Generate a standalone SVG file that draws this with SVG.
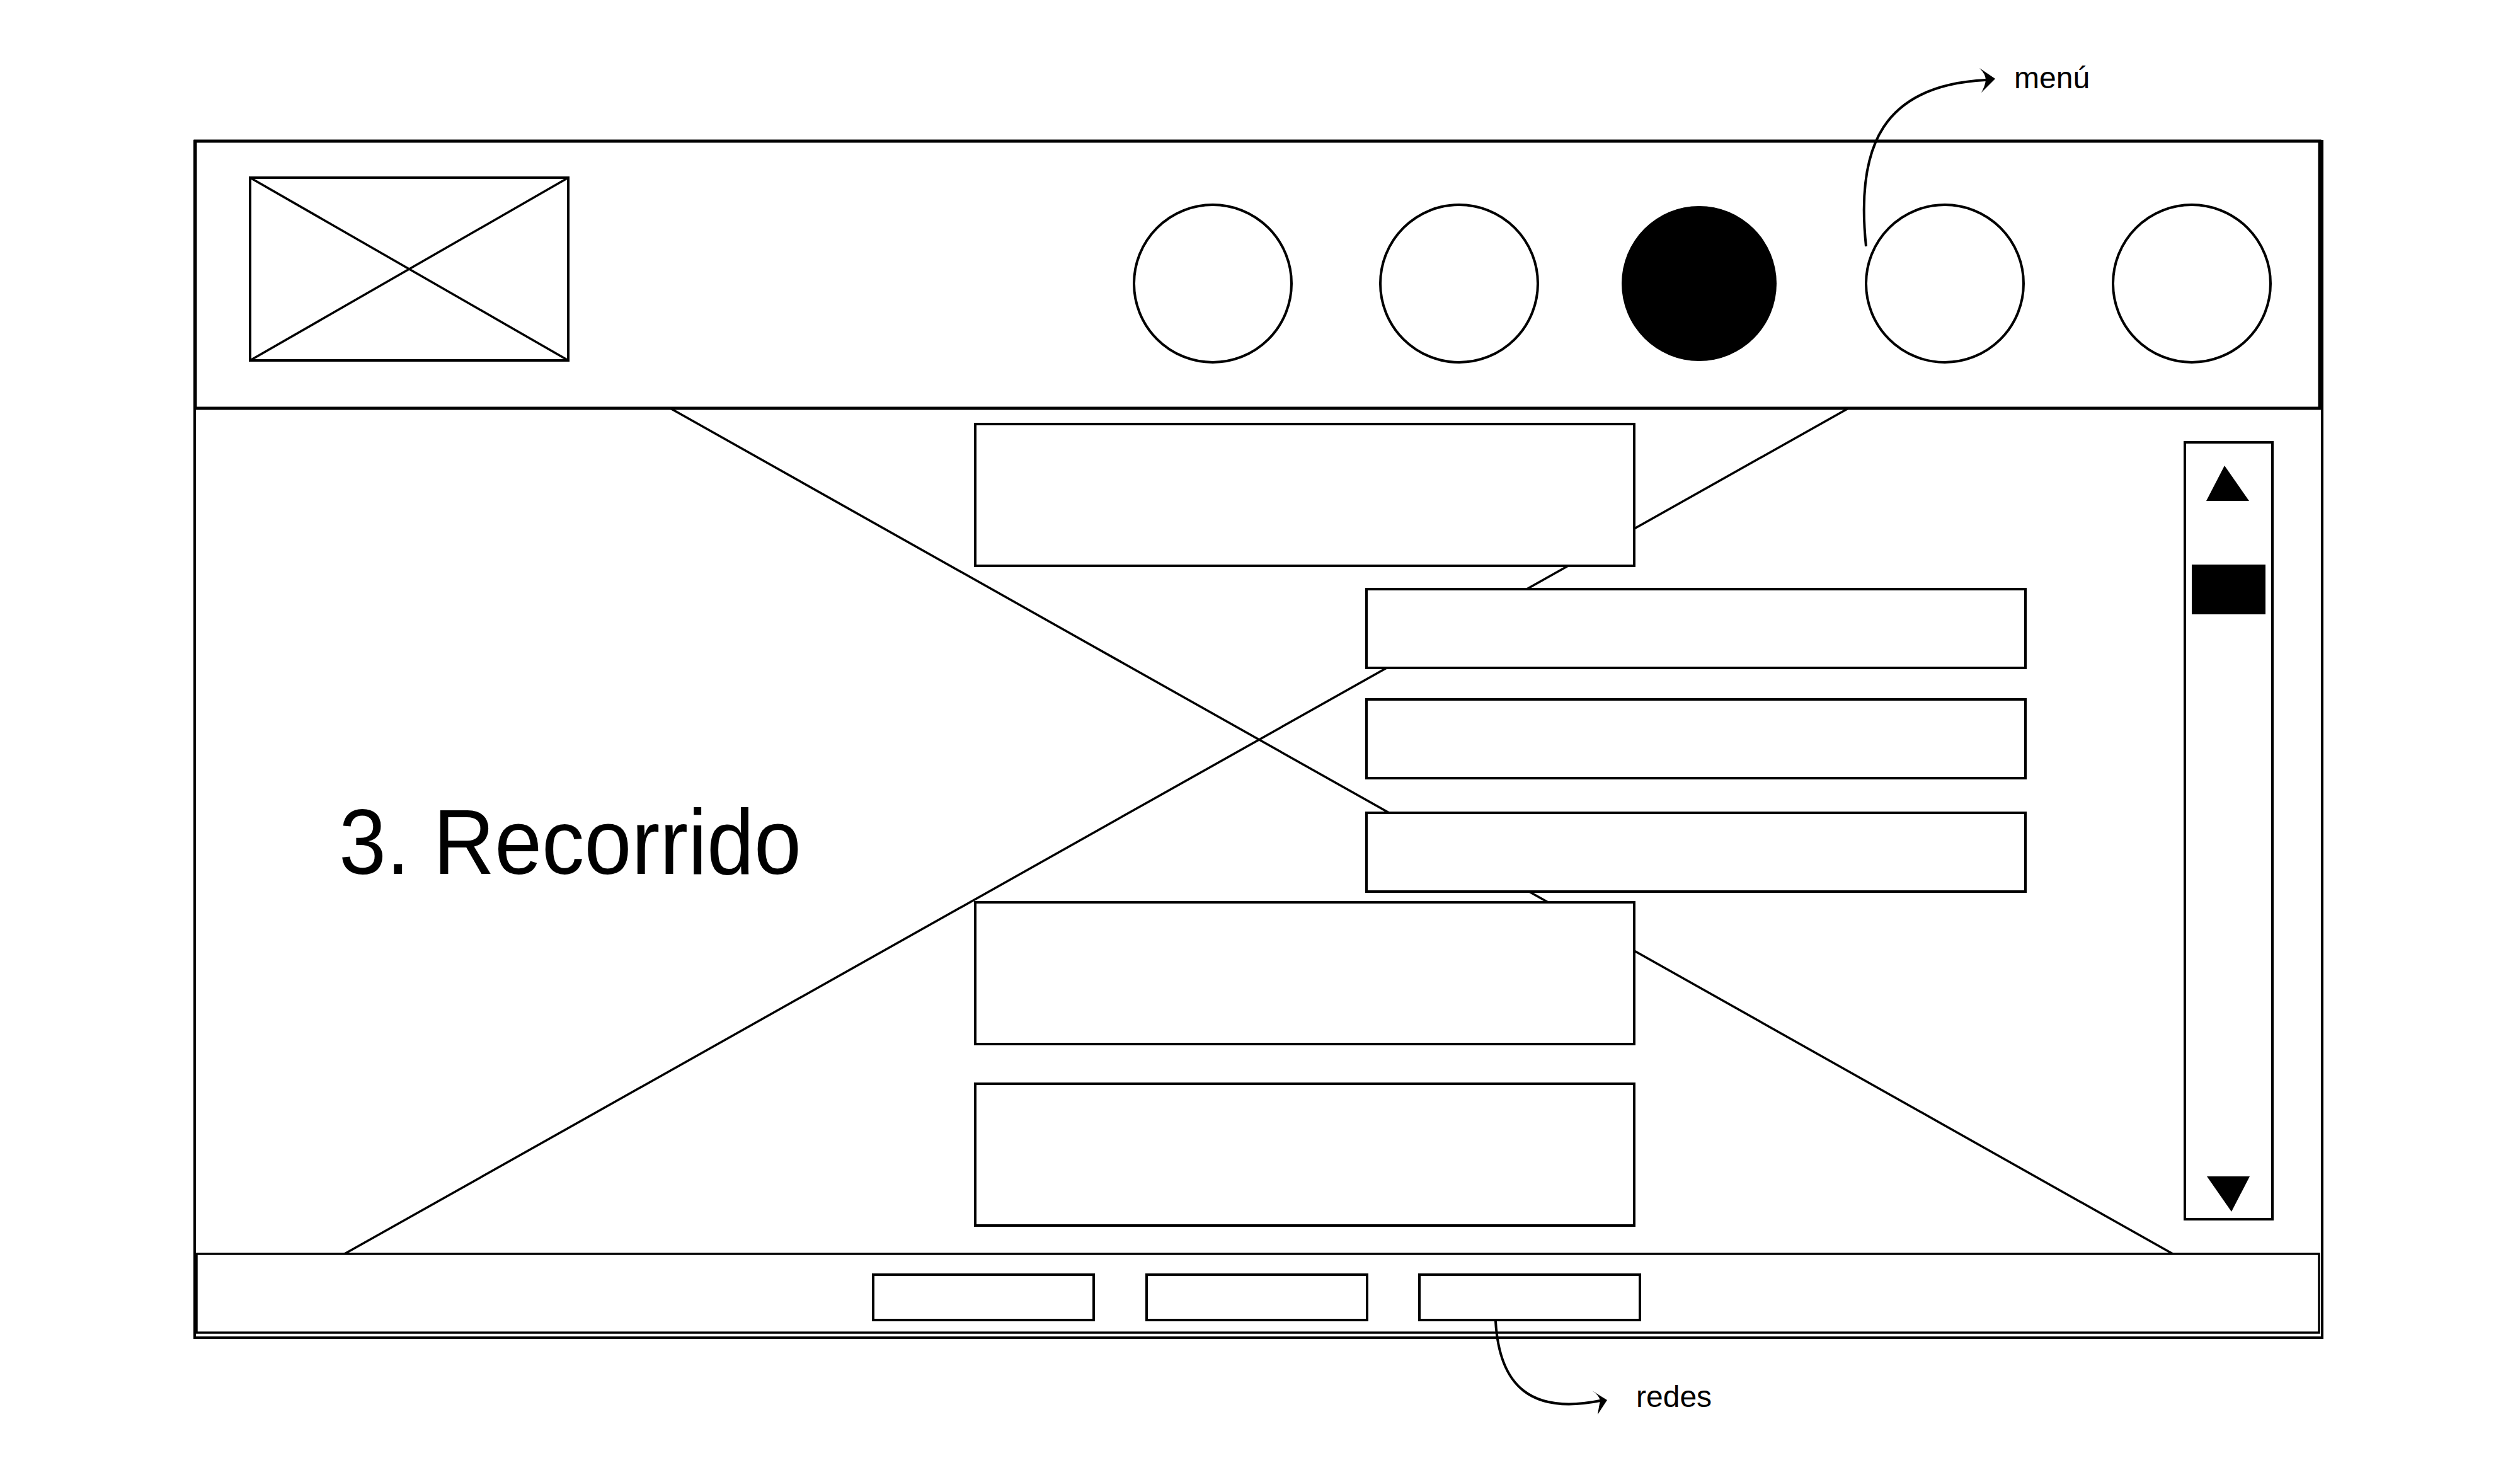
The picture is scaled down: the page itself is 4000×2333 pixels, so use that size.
<svg xmlns="http://www.w3.org/2000/svg" width="4000" height="2333" viewBox="0 0 4000 2333">
  <style>
    .box { fill: #ffffff; stroke: #000000; stroke-width: 4; }
    .thin { fill: none; stroke: #000000; stroke-width: 3.5; }
    .solid { fill: #000000; stroke: none; }
    .label { font-family: "Liberation Sans", Arial, sans-serif; fill: #000000; }
    .conn { fill: none; stroke: #000000; stroke-width: 4; }
  </style>
  <rect x="0" y="0" width="4000" height="2333" fill="#ffffff"/>

  <g id="frame">
    <rect x="309" y="224" width="3377" height="1899" class="box"/>
  </g>

  <g id="hero-image">
    <line x1="1064" y1="648" x2="3449" y2="1990" class="thin"/>
    <line x1="2934" y1="648" x2="545" y2="1991" class="thin"/>
  </g>

  <g id="header">
    <rect x="310" y="224" width="3372" height="424" fill="none" stroke="#000" stroke-width="5"/>
  </g>

  <g id="logo">
    <rect x="397" y="282" width="505" height="290" class="box"/>
    <line x1="397" y1="282" x2="902" y2="572" class="thin"/>
    <line x1="902" y1="282" x2="397" y2="572" class="thin"/>
  </g>

  <g id="menu-item-1"><circle cx="1925" cy="450" r="125" class="box"/></g>
  <g id="menu-item-2"><circle cx="2316" cy="450" r="125" class="box"/></g>
  <g id="menu-item-3"><circle cx="2697" cy="450" r="123" class="solid"/></g>
  <g id="menu-item-4"><circle cx="3087" cy="450" r="125" class="box"/></g>
  <g id="menu-item-5"><circle cx="3479" cy="450" r="125" class="box"/></g>

  <g id="block-1"><rect x="1548" y="673" width="1046" height="225" class="box"/></g>
  <g id="block-2"><rect x="2169" y="935" width="1046" height="125" class="box"/></g>
  <g id="block-3"><rect x="2169" y="1110" width="1046" height="125" class="box"/></g>
  <g id="block-4"><rect x="2169" y="1290" width="1046" height="125" class="box"/></g>
  <g id="block-5"><rect x="1548" y="1432" width="1046" height="225" class="box"/></g>
  <g id="block-6"><rect x="1548" y="1720" width="1046" height="225" class="box"/></g>

  <g id="title">
    <text x="538" y="1387" class="label" font-size="146" textLength="734" lengthAdjust="spacingAndGlyphs">3. Recorrido</text>
  </g>

  <g id="scrollbar">
    <rect x="3468" y="702" width="139" height="1233" class="box"/>
    <polygon points="3531,739 3502,795 3570,795" class="solid"/>
    <rect x="3479" y="896" width="117" height="79" class="solid"/>
    <polygon points="3503,1867 3571,1867 3542,1923" class="solid"/>
  </g>

  <g id="footer">
    <rect x="312" y="1990" width="3369" height="125" fill="#ffffff" stroke="#000" stroke-width="3.5"/>
  </g>
  <g id="social-1"><rect x="1386" y="2023" width="350" height="72" class="box"/></g>
  <g id="social-2"><rect x="1820" y="2023" width="350" height="72" class="box"/></g>
  <g id="social-3"><rect x="2253" y="2023" width="350" height="72" class="box"/></g>

  <g id="label-menu">
    <text x="3197" y="140" class="label" font-size="48">menú</text>
  </g>
  <g id="label-redes">
    <text x="2597" y="2233" class="label" font-size="48">redes</text>
  </g>

  <g id="connectors">
    <path d="M2962 391 C2945 230 2990 135 3152 127" class="conn"/>
    <path d="M3167 125 L3142 108 Q3152 118 3152 127 Q3151 136 3145 147 Z" class="solid"/>
    <path d="M2374 2097 C2380 2200 2430 2245 2540 2223" class="conn"/>
    <path d="M2551 2222 L2527 2207 Q2538 2214 2540 2223 Q2538 2232 2536 2245 Z" class="solid"/>
  </g>
</svg>
